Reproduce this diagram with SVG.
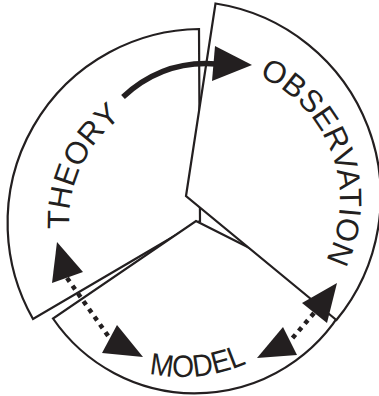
<svg xmlns="http://www.w3.org/2000/svg" width="379" height="396" viewBox="0 0 379 396">
<style>
.sec{fill:#fff;stroke:#231f20;stroke-width:2.2;stroke-linejoin:miter}
.lbl{font-family:"Liberation Sans",Arial,sans-serif;font-size:31px;fill:#231f20}
.head{fill:#231f20;stroke:none}
.dot{fill:none;stroke:#231f20;stroke-width:4.5;stroke-dasharray:4.5 5}
</style>
<defs>
<path id="pTheory" d="M86.6,287.5 A131,131 0 0 1 177.3,93"/>
<path id="pObs" d="M181.6,67.1 A135,135 0 0 1 272.5,316.9"/>
<path id="pModel" d="M43.4,297 A160,160 0 0 0 320.6,297"/>
</defs>
<rect width="379" height="396" fill="#fff"/>
<g id="theory">
<path class="sec" d="M200,221 L199,29 A194,194 0 0 0 33,319 Z"/>
<text class="lbl" font-size="32"><textPath href="#pTheory" startOffset="50%" text-anchor="middle">THEORY</textPath></text>
</g>
<g id="model">
<path class="sec" d="M196,221 L348.8,298 A172,172 0 0 1 53,318.5 Z"/>
<text class="lbl" font-size="41"><textPath href="#pModel" startOffset="55%" text-anchor="middle" textLength="100" lengthAdjust="spacingAndGlyphs">MODEL</textPath></text>
</g>
<g id="observation">
<path class="sec" d="M186,196 L215.5,3.5 A195,195 0 0 1 336.4,320 Z"/>
<text class="lbl" font-size="32"><textPath href="#pObs" startOffset="50%" text-anchor="middle">OBSERVATION</textPath></text>
</g>
<g id="connectors">
<path d="M123,97 Q163,60 216,64" fill="none" stroke="#231f20" stroke-width="5.5"/>
<polygon class="head" points="215,46 252,65 212,81"/>
<line class="dot" x1="67" y1="278" x2="111" y2="340"/>
<polygon class="head" points="57,242 83,272 52,283"/>
<polygon class="head" points="117,325 143,357 102,353"/>
<line class="dot" x1="314" y1="313" x2="290" y2="341"/>
<polygon class="head" points="337,283 327,323 302,303"/>
<polygon class="head" points="257,358 283,327 297,355"/>
</g>
</svg>
